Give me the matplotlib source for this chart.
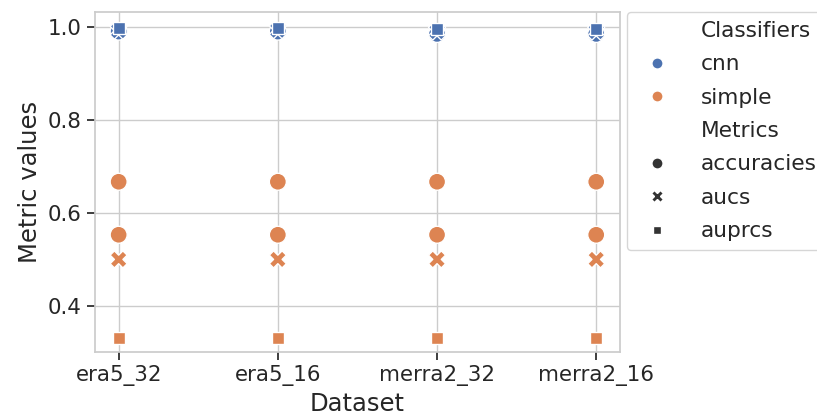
import matplotlib
matplotlib.use("Agg")
import matplotlib.pyplot as plt
import seaborn as sns
import pandas as pd

# --- Data ---
datasets = ["era5_32", "era5_16", "merra2_32", "merra2_16"]

cnn_accuracies = [0.990, 0.990, 0.985, 0.985]
cnn_aucs = [0.992, 0.993, 0.990, 0.990]
cnn_auprcs = [0.998, 0.998, 0.996, 0.996]

simple_accuracies_a = [0.667, 0.667, 0.667, 0.667]
simple_accuracies_b = [0.553, 0.553, 0.553, 0.553]
simple_aucs = [0.500, 0.500, 0.500, 0.500]
simple_auprcs = [0.331, 0.331, 0.331, 0.331]

rows = []
for clf, metric, vals in [
    ("cnn", "accuracies", cnn_accuracies),
    ("cnn", "aucs", cnn_aucs),
    ("cnn", "auprcs", cnn_auprcs),
    ("simple", "accuracies", simple_accuracies_a),
    ("simple", "accuracies", simple_accuracies_b),
    ("simple", "aucs", simple_aucs),
    ("simple", "auprcs", simple_auprcs),
]:
    for d, v in zip(datasets, vals):
        rows.append({"Dataset": d, "Metric values": v, "Classifiers": clf, "Metrics": metric})
df = pd.DataFrame(rows)

# --- Plot ---
sns.set_theme(style="whitegrid", font_scale=1.4)
plt.rcParams["xtick.bottom"] = True
plt.rcParams["ytick.left"] = True
plt.rcParams["axes.labelsize"] = 17.5
plt.rcParams["legend.fontsize"] = 15.6

fig, ax = plt.subplots(figsize=(8.17, 4.16), dpi=100)
sns.scatterplot(data=df, x="Dataset", y="Metric values", hue="Classifiers",
                style="Metrics", s=150, ax=ax)
ax.set_ylim(0.301, 1.032)
ax.set_yticks([0.4, 0.6, 0.8, 1.0])
leg = ax.legend(bbox_to_anchor=(1.013, 1.0), loc="upper left", borderaxespad=0,
                labelspacing=0.62, handletextpad=1.0)
for h in leg.legend_handles:
    h.set_markersize(8)
fig.subplots_adjust(left=0.116, right=0.759, top=0.971, bottom=0.154)
fig.savefig("out.png", dpi=100)
